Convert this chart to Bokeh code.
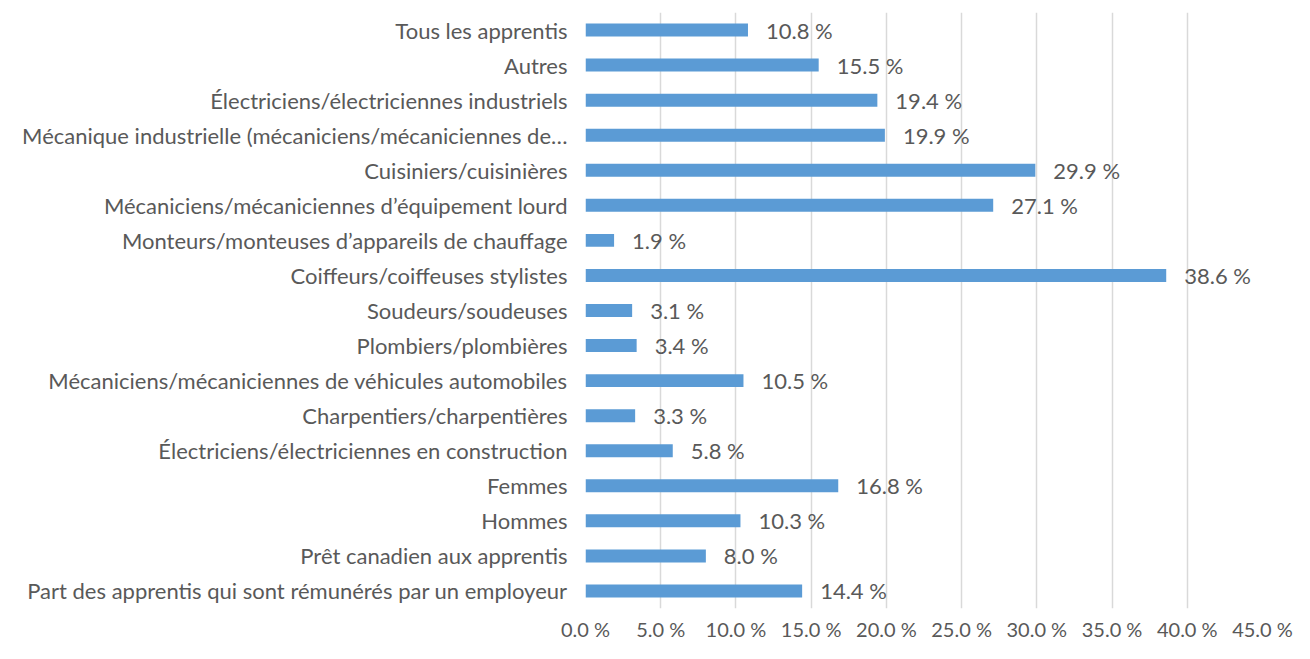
from bokeh.plotting import figure
from bokeh.models import FactorRange, Range1d, FixedTicker, CustomJSTickFormatter, ColumnDataSource
from bokeh.core.properties import value
from bokeh.embed import file_html
from bokeh.resources import INLINE

categories = [
    "Tous les apprentis",
    "Autres",
    "Électriciens/électriciennes industriels",
    "Mécanique industrielle (mécaniciens/mécaniciennes de…",
    "Cuisiniers/cuisinières",
    "Mécaniciens/mécaniciennes d’équipement lourd",
    "Monteurs/monteuses d’appareils de chauffage",
    "Coiffeurs/coiffeuses stylistes",
    "Soudeurs/soudeuses",
    "Plombiers/plombières",
    "Mécaniciens/mécaniciennes de véhicules automobiles",
    "Charpentiers/charpentières",
    "Électriciens/électriciennes en construction",
    "Femmes",
    "Hommes",
    "Prêt canadien aux apprentis",
    "Part des apprentis qui sont rémunérés par un employeur",
]
values = [10.8, 15.5, 19.4, 19.9, 29.9, 27.1, 1.9, 38.6, 3.1, 3.4, 10.5, 3.3, 5.8, 16.8, 10.3, 8.0, 14.4]
x_ticks = [0, 5, 10, 15, 20, 25, 30, 35, 40, 45]

FONT = "Lato"
TXT = "#595959"
FS = "22px"

src = ColumnDataSource(dict(
    cat=categories,
    val=values,
    lab=[f"{v:.1f} %" for v in values],
))

p = figure(
    width=1294, height=643,
    y_range=FactorRange(factors=list(reversed(categories)), range_padding=0),
    x_range=Range1d(0, 45),
    output_backend="svg", toolbar_location=None,
    min_border_left=585, min_border_right=32, min_border_top=12, min_border_bottom=20,
)
p.hbar(y="cat", right="val", left=0, height=0.37, source=src, color="#5B9BD5", line_color=None)
p.text(x="val", y="cat", text="lab", source=src, x_offset=18, text_baseline="middle",
       text_align="left", text_font=value(FONT), text_font_size=FS, text_color=TXT)

p.outline_line_color = None
p.ygrid.grid_line_color = None
p.xgrid.grid_line_color = "#D9D9D9"
p.xgrid.grid_line_width = 1.5
p.xaxis.ticker = FixedTicker(ticks=x_ticks)
p.xaxis.formatter = CustomJSTickFormatter(code="return tick.toFixed(1) + ' %';")
for ax in (p.xaxis[0], p.yaxis[0]):
    ax.axis_line_color = None
    ax.major_tick_line_color = None
    ax.minor_tick_line_color = None
    ax.major_tick_out = 0
    ax.major_tick_in = 0
    ax.minor_tick_out = 0
    ax.major_label_text_font = FONT
    ax.major_label_text_color = TXT
p.yaxis.major_label_text_font_size = FS
p.xaxis.major_label_text_font_size = "20px"
p.yaxis.major_label_standoff = 18
p.xaxis.major_label_standoff = 8

open("out.html", "w").write(file_html(p, INLINE))
